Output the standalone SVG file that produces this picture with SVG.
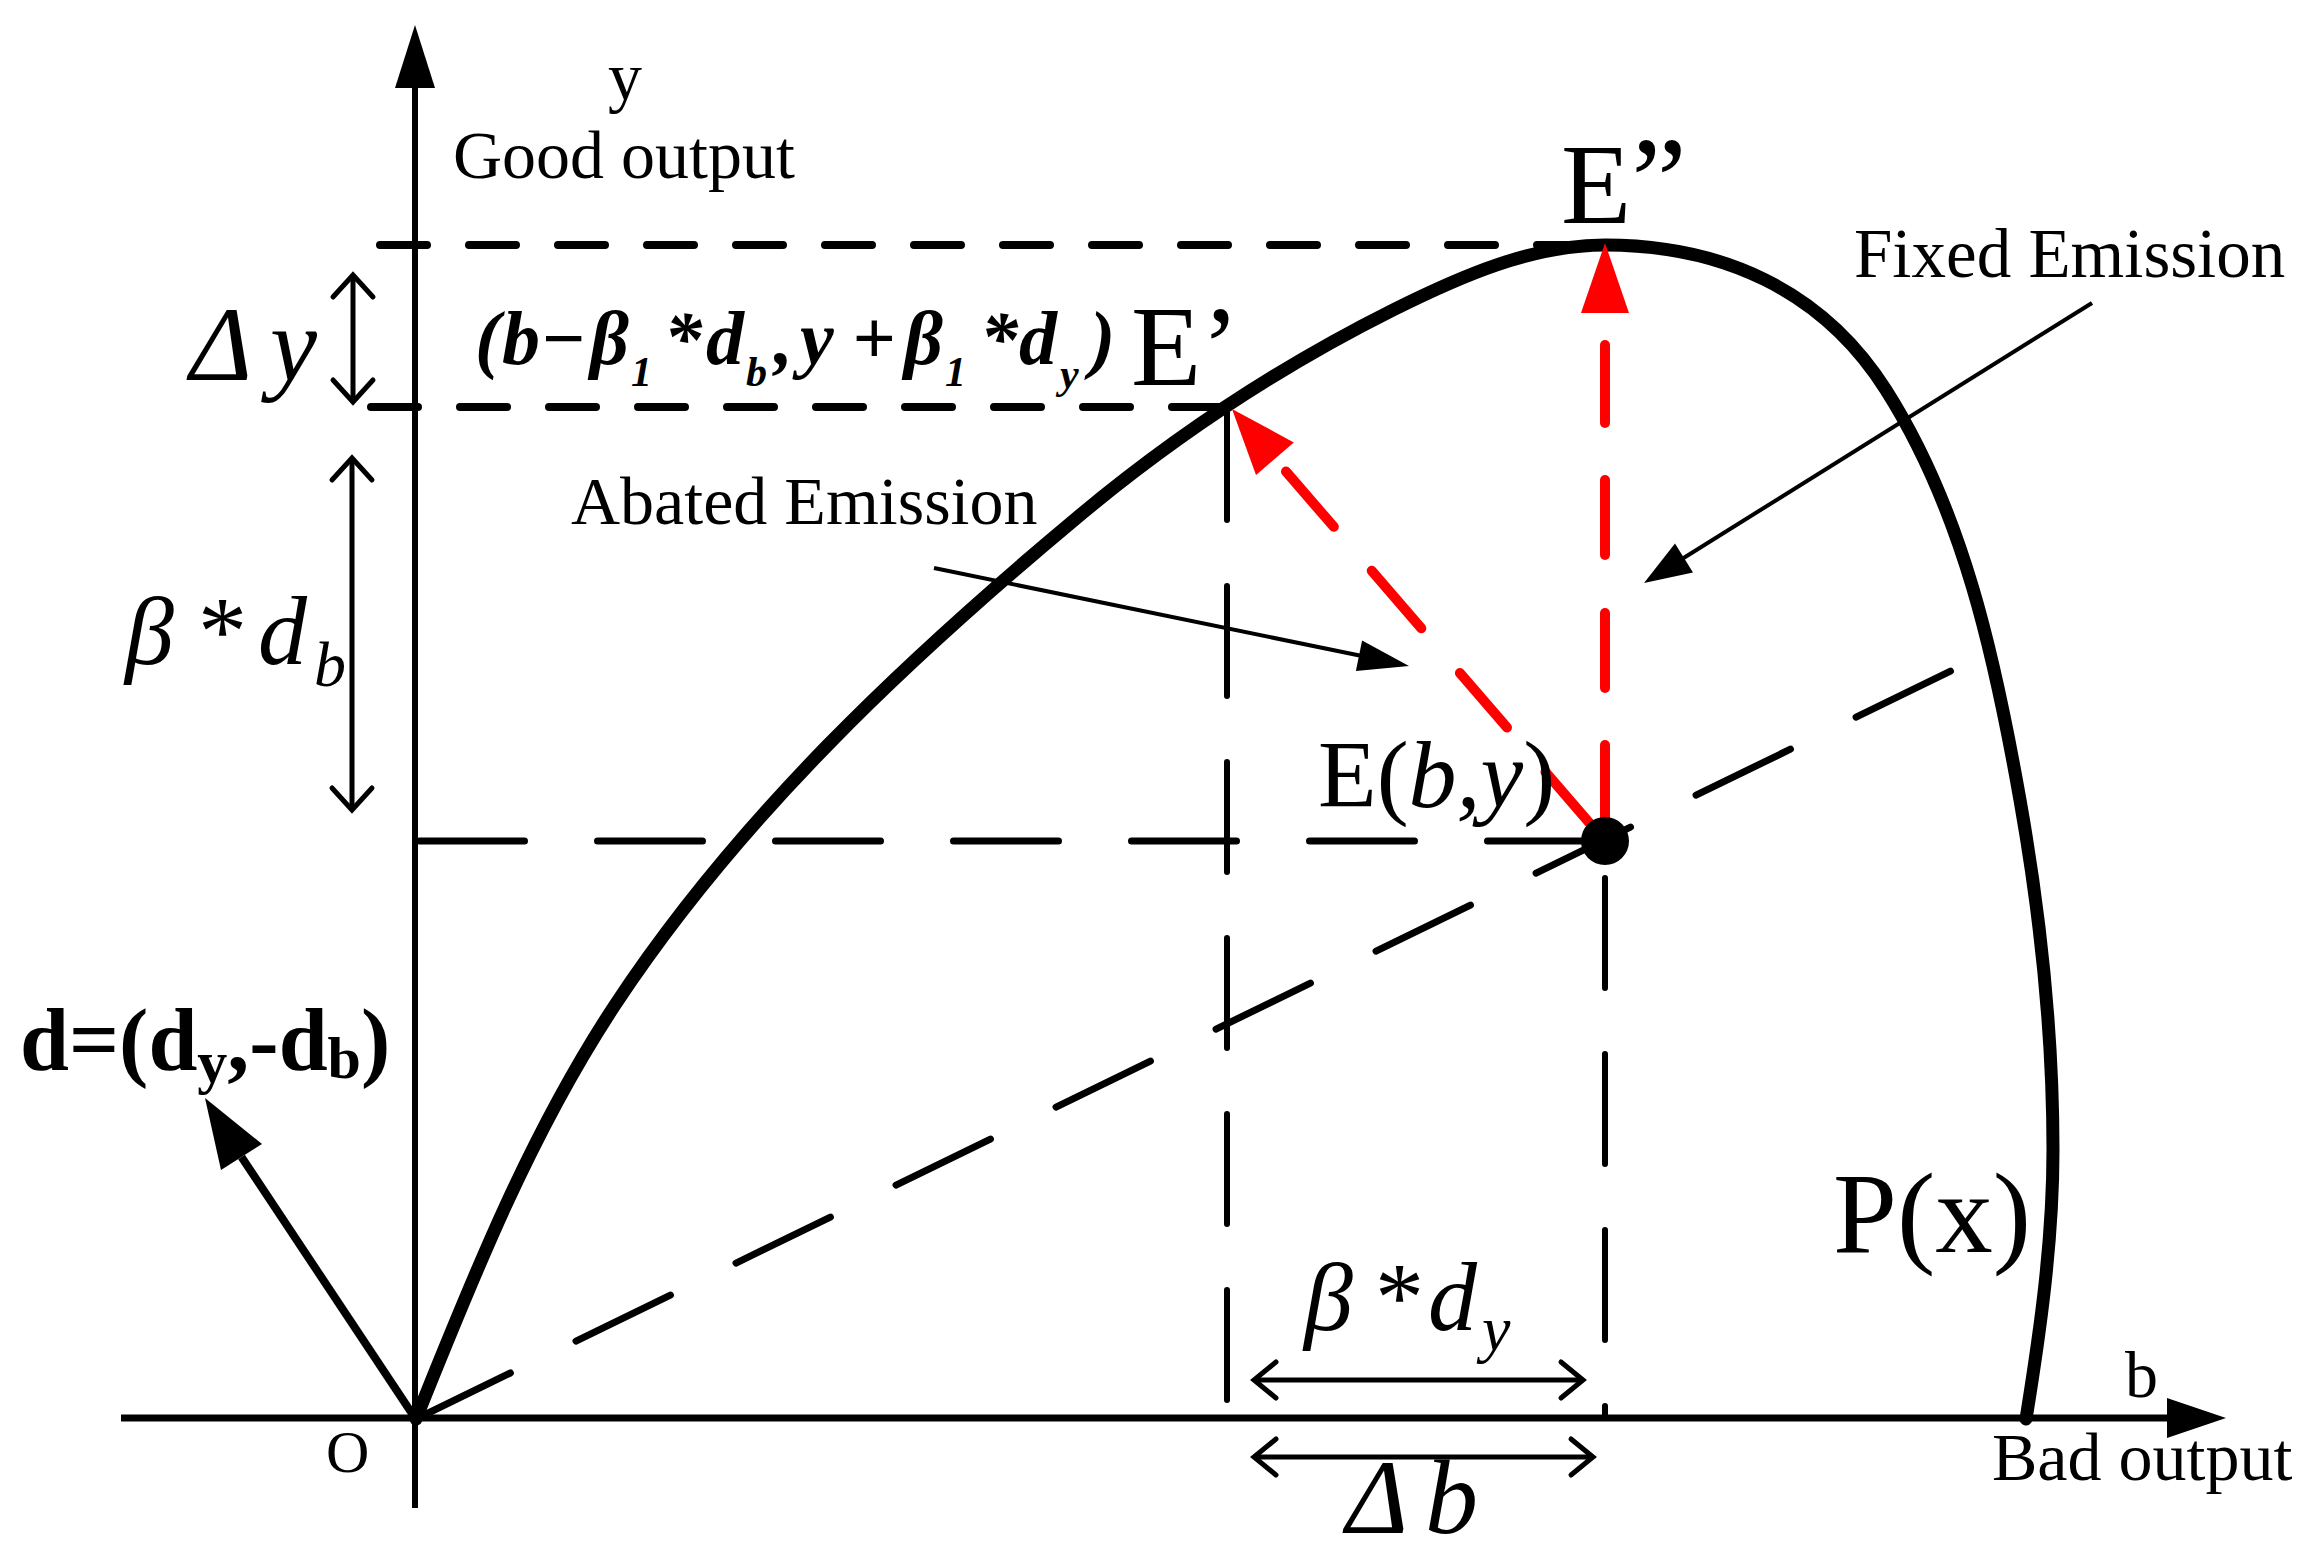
<svg xmlns="http://www.w3.org/2000/svg" width="2305" height="1559" viewBox="0 0 2305 1559">
<style>
text{font-family:"Liberation Serif","Times New Roman",serif;fill:#000}
.it{font-style:italic}
.bd{font-weight:bold}
.ax{stroke:#000;fill:none}
.dash8{stroke:#000;stroke-width:8;stroke-linecap:round;stroke-dasharray:47 42;fill:none}
.dashL{stroke:#000;stroke-width:7;stroke-linecap:round;stroke-dasharray:105 73;fill:none}
.dashV{stroke:#000;stroke-width:6;stroke-linecap:round;stroke-dasharray:110 66;fill:none}
.red{stroke:#ff0000;stroke-width:10;stroke-linecap:round;fill:none}
.redh{fill:#ff0000;stroke:none}
.blk{fill:#000;stroke:none}
.dim{stroke:#000;stroke-width:5;fill:none;stroke-linecap:round;stroke-linejoin:miter}
.lead{stroke:#000;stroke-width:4;fill:none}
</style>
<rect width="2305" height="1559" fill="#fff"/>

<g id="axes">
  <line class="ax" x1="415" y1="1508" x2="415" y2="86" stroke-width="6"/>
  <polygon class="blk" points="415,25 395,88 435,88"/>
  <line class="ax" x1="121" y1="1418" x2="2170" y2="1418" stroke-width="7"/>
  <polygon class="blk" points="2226,1418 2167,1398 2167,1438"/>
</g>

<g id="guides">
  <path class="dash8" d="M380,245 H1604"/>
  <path class="dash8" d="M371,407 H1222"/>
  <path class="dashL" d="M419.5,841 H1600"/>
  <path class="dashL" d="M416,1419 L1955,669"/>
  <path class="dashV" d="M1227,410 V1405"/>
  <path class="dashV" d="M1605,878 V1416"/>
</g>

<g id="frontier">
  <path fill="none" stroke="#000" stroke-width="13" stroke-linecap="round" d="M416,1419 C472.8,1277 530.7,1132.6 615,1005 C739,817.3 906.2,660 1079,516 C1175,436 1281.2,365.9 1393,310 C1459.2,276.9 1531,245 1605,245 C1720,245 1821.7,288.7 1886,390 C1963.2,511.5 1995,658.2 2020,800 C2040.4,915.2 2053,1033 2053,1150 C2053,1240 2040.4,1330.2 2026,1419"/>
</g>

<g id="red-arrows">
  <line class="red" x1="1605" y1="345" x2="1605" y2="423"/>
  <line class="red" x1="1605" y1="480" x2="1605" y2="555"/>
  <line class="red" x1="1605" y1="613" x2="1605" y2="688"/>
  <line class="red" x1="1605" y1="745" x2="1605" y2="835"/>
  <polygon class="redh" points="1605,243 1581,313 1629,313"/>
  <line class="red" x1="1605" y1="841" x2="1545.5" y2="772.1"/>
  <line class="red" x1="1507" y1="727.5" x2="1459.9" y2="673"/>
  <line class="red" x1="1421.3" y1="628.3" x2="1371.7" y2="570.7"/>
  <line class="red" x1="1333.8" y1="526.8" x2="1286" y2="471.6"/>
  <polygon class="redh" points="1232,409 1293.8,442.4 1256,475"/>
</g>

<g id="point-E">
  <circle cx="1605" cy="841" r="24" fill="#000"/>
</g>

<g id="d-vector">
  <line class="ax" x1="415" y1="1418" x2="241.5" y2="1157" stroke-width="8"/>
  <polygon class="blk" points="205,1098 262,1144 221,1170"/>
</g>

<g id="dimensions">
  <line class="dim" x1="353" y1="277" x2="353" y2="400"/>
  <polyline class="dim" points="333,297 353,275 373,297"/>
  <polyline class="dim" points="333,380 353,402 373,380"/>
  <line class="dim" x1="352" y1="460" x2="352" y2="808"/>
  <polyline class="dim" points="332,480 352,458 372,480"/>
  <polyline class="dim" points="332,788 352,810 372,788"/>
  <line class="dim" x1="1256" y1="1380" x2="1581" y2="1380"/>
  <polyline class="dim" points="1276,1362 1254,1380 1276,1398"/>
  <polyline class="dim" points="1561,1362 1583,1380 1561,1398"/>
  <line class="dim" x1="1256" y1="1457" x2="1591" y2="1457"/>
  <polyline class="dim" points="1276,1439 1254,1457 1276,1475"/>
  <polyline class="dim" points="1571,1439 1593,1457 1571,1475"/>
</g>

<g id="leaders">
  <line class="lead" x1="934" y1="568" x2="1362" y2="656"/>
  <polygon class="blk" points="1409,666 1362.1,640.5 1355.9,670.9"/>
  <line class="lead" x1="2092" y1="303" x2="1682" y2="559"/>
  <polygon class="blk" points="1644,583 1693,572.4 1675,543.6"/>
</g>

<g id="labels">
  <text x="608" y="100" font-size="68">y</text>
  <text x="453" y="178" font-size="68">Good output</text>
  <text x="1561" y="223" font-size="115">E<tspan font-size="125">”</tspan></text>
  <text x="1131" y="385" font-size="115">E’</text>
  <text x="1854" y="277" font-size="69">Fixed Emission</text>
  <text x="571" y="524" font-size="68">Abated Emission</text>
  <text class="it" font-size="106" y="380"><tspan x="190">Δ</tspan><tspan x="270">y</tspan></text>
  <text class="it bd" font-size="76" y="364"><tspan x="475">(</tspan><tspan x="502">b</tspan><tspan x="540">−</tspan><tspan x="590">β</tspan><tspan x="631" y="386" font-size="42">1</tspan><tspan x="664" y="364">*</tspan><tspan x="706">d</tspan><tspan x="746" y="386" font-size="42">b</tspan><tspan x="774" y="364">,</tspan><tspan x="800">y</tspan><tspan x="852">+</tspan><tspan x="904">β</tspan><tspan x="945" y="386" font-size="42">1</tspan><tspan x="980" y="364">*</tspan><tspan x="1019">d</tspan><tspan x="1060" y="388" font-size="42">y</tspan><tspan x="1090" y="364">)</tspan></text>
  <text font-size="98" y="664"><tspan class="it" x="125">β</tspan><tspan x="198">*</tspan><tspan class="it" x="258">d</tspan><tspan class="it" x="314" y="686" font-size="64">b</tspan></text>
  <text x="1318" y="807" font-size="96">E(<tspan class="it">b,y</tspan>)</text>
  <text class="bd" x="20" y="1070" font-size="88">d=(d<tspan font-size="60" y="1082">y</tspan><tspan y="1070">,-d</tspan><tspan font-size="60" y="1078">b</tspan><tspan y="1070">)</tspan></text>
  <text x="326" y="1472" font-size="60">O</text>
  <text x="1833" y="1252" font-size="115">P(x)</text>
  <text font-size="98" y="1330"><tspan class="it" x="1304">β</tspan><tspan x="1375">*</tspan><tspan class="it" x="1428">d</tspan><tspan class="it" x="1482" y="1350" font-size="64">y</tspan></text>
  <text x="2125" y="1397" font-size="66">b</text>
  <text x="1992" y="1480" font-size="68">Bad output</text>
  <text class="it" font-size="106" y="1533"><tspan x="1346">Δ</tspan><tspan x="1425">b</tspan></text>
</g>
</svg>
